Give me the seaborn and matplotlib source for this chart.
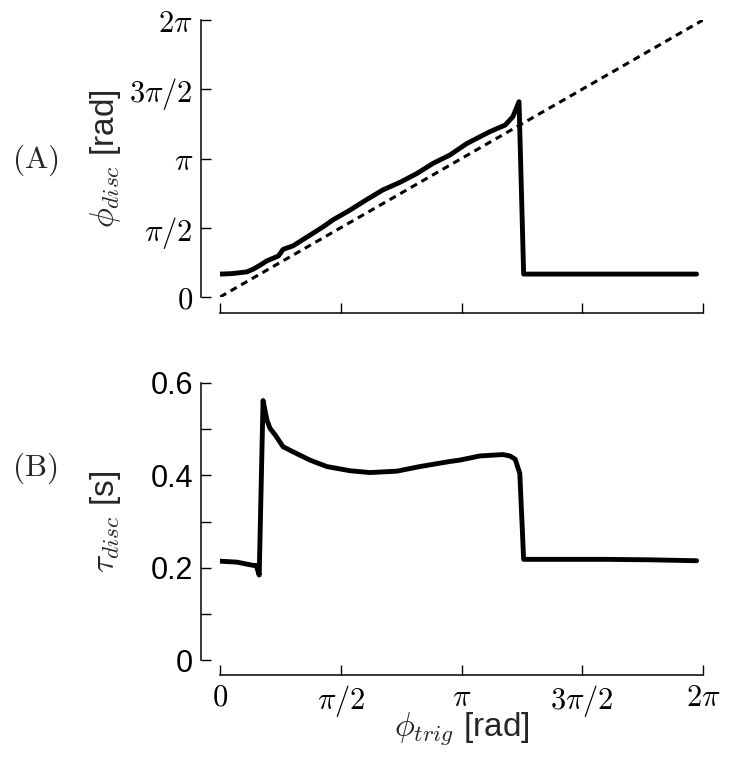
import numpy as np
import matplotlib
matplotlib.use("Agg")
import matplotlib.pyplot as plt
import seaborn as sns

# ---- data ----
phi_trig_a = [0.00, 0.15, 0.35, 0.43, 0.52, 0.61, 0.76, 0.82, 0.95, 1.15, 1.34, 1.47,
              1.69, 1.90, 2.12, 2.34, 2.56, 2.77, 2.99, 3.21, 3.51, 3.71, 3.81, 3.89,
              3.95, 4.50, 5.00, 5.50, 6.20]
phi_disc = [0.52, 0.53, 0.57, 0.63, 0.72, 0.82, 0.93, 1.08, 1.16, 1.38, 1.59, 1.75,
            1.97, 2.20, 2.43, 2.60, 2.80, 3.03, 3.22, 3.48, 3.75, 3.90, 4.09, 4.43,
            0.52, 0.52, 0.52, 0.52, 0.52]

identity_x = [0.0, 2 * np.pi]
identity_y = [0.0, 2 * np.pi]

phi_trig_b = [0.00, 0.22, 0.43, 0.47, 0.51, 0.56, 0.61, 0.65, 0.72, 0.82, 0.95, 1.17,
              1.39, 1.69, 1.95, 2.30, 2.60, 2.99, 3.12, 3.38, 3.68, 3.77, 3.84, 3.90,
              3.95, 4.50, 5.03, 5.60, 6.20]
tau_disc = [0.214, 0.212, 0.205, 0.205, 0.184, 0.562, 0.520, 0.502, 0.487, 0.462, 0.451,
            0.433, 0.419, 0.410, 0.406, 0.409, 0.419, 0.430, 0.433, 0.442, 0.445, 0.442,
            0.435, 0.404, 0.218, 0.218, 0.218, 0.217, 0.215]

phase_ticks = [0, np.pi / 2, np.pi, 3 * np.pi / 2, 2 * np.pi]
phase_ticklabels = [r"$0$", r"$\pi/2$", r"$\pi$", r"$3\pi/2$", r"$2\pi$"]
tau_ticks = [0, 0.1, 0.2, 0.3, 0.4, 0.5, 0.6]
tau_ticklabels = ["0", "", "0.2", "", "0.4", "", "0.6"]

# ---- style ----
sns.set_style("ticks")
plt.rcParams["font.family"] = ["Liberation Sans", "DejaVu Sans"]
plt.rcParams["mathtext.fontset"] = "cm"

W, H = 729, 757
fig = plt.figure(figsize=(W / 100, H / 100), dpi=100)
axA = fig.add_axes([220 / W, 1 - 297 / H, 483 / W, 277 / H])
axB = fig.add_axes([220 / W, 1 - 660 / H, 483 / W, 277 / H])

# Panel A
sns.lineplot(x=phi_trig_a, y=phi_disc, ax=axA, color="black", lw=3.5,
             estimator=None, sort=False)
sns.lineplot(x=identity_x, y=identity_y, ax=axA, color="black", lw=2.2,
             estimator=None, sort=False, linestyle=(0, (2.3, 1.7)))
axA.set_xlim(0, 2 * np.pi)
axA.set_ylim(0, 2 * np.pi)
axA.set_xticks(phase_ticks)
axA.set_xticklabels([])
axA.set_yticks(phase_ticks)
axA.set_yticklabels(phase_ticklabels)
axA.set_ylabel(r"$\phi_{disc}$ [rad]", fontsize=24)
axA.yaxis.set_label_coords((123 - 220) / 483, 0.5)

# Panel B
sns.lineplot(x=phi_trig_b, y=tau_disc, ax=axB, color="black", lw=3.5,
             estimator=None, sort=False)
axB.set_xlim(0, 2 * np.pi)
axB.set_ylim(0, 0.6)
axB.set_xticks(phase_ticks)
axB.set_xticklabels(phase_ticklabels)
axB.set_yticks(tau_ticks)
axB.set_yticklabels(tau_ticklabels)
axB.set_ylabel(r"$\tau_{disc}$ [s]", fontsize=24)
axB.yaxis.set_label_coords((123 - 220) / 483, 0.5)
axB.set_xlabel(r"$\phi_{trig}$ [rad]", fontsize=24)
axB.xaxis.set_label_coords(0.5, (660 - 710) / 277)

for ax in (axA, axB):
    ax.tick_params(direction="in", length=7, width=1.0, color="black", pad=5.5,
                   labelsize=22, labelcolor="black")
    for s in ax.spines.values():
        s.set_linewidth(1.1)
        s.set_color("black")

axB.tick_params(axis="y", labelsize=22)
sns.despine(ax=axA, offset={"left": 14, "bottom": 11.5}, trim=True)
sns.despine(ax=axB, offset={"left": 14, "bottom": 11}, trim=True)

fig.text(35 / W, 1 - 160 / H, r"$\mathrm{(A)}$", ha="center", va="center", fontsize=22.5)
fig.text(35 / W, 1 - 468 / H, r"$\mathrm{(B)}$", ha="center", va="center", fontsize=22.5)

fig.savefig("out.png", dpi=100, facecolor="white")
